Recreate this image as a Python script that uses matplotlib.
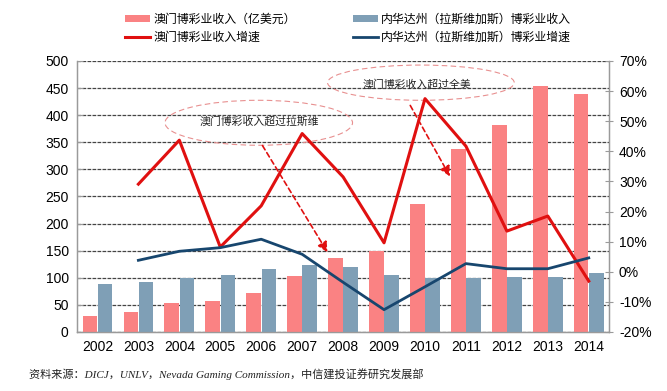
import numpy as np
import matplotlib
matplotlib.use("Agg")
import matplotlib.pyplot as plt
from matplotlib.patches import Ellipse

plt.rcParams['font.family'] = ['Liberation Sans', 'Noto Sans CJK SC', 'DejaVu Sans']
plt.rcParams['axes.unicode_minus'] = False

years = ['2002', '2003', '2004', '2005', '2006', '2007', '2008',
         '2009', '2010', '2011', '2012', '2013', '2014']
# 收入（亿美元）
macau_rev = [29, 37, 54, 58, 71, 104, 137, 150, 237, 337, 382, 453, 440]
nevada_rev = [88, 92, 99, 106, 117, 124, 119, 105, 100, 100, 101, 102, 108]
# 增速（%），2002 年无数据
macau_growth = [np.nan, 29.1, 43.7, 8.2, 21.9, 45.9, 31.5, 9.6, 57.5, 41.7, 13.5, 18.5, -3.1]
nevada_growth = [np.nan, 3.8, 6.8, 8.0, 10.8, 5.8, -3.5, -12.6, -5.0, 2.7, 1.0, 1.0, 4.6]

c_pink = '#FA8283'
c_steel = '#7F9FB6'
c_red = '#E01010'
c_navy = '#17466E'

fig = plt.figure(figsize=(6.67, 3.91), dpi=100)
ax = fig.add_axes([0.1154, 0.151, 0.798, 0.693])
ax2 = ax.twinx()

x = np.arange(len(years))
w = 0.355
b1 = ax.bar(x - 0.185, macau_rev, w, color=c_pink, zorder=3, label='澳门博彩业收入（亿美元）')
b2 = ax.bar(x + 0.185, nevada_rev, w, color=c_steel, zorder=3, label='内华达州（拉斯维加斯）博彩业收入')

l1, = ax2.plot(x, macau_growth, color=c_red, lw=2.2, label='澳门博彩业收入增速')
l2, = ax2.plot(x, nevada_growth, color=c_navy, lw=2.0, label='内华达州（拉斯维加斯）博彩业增速')

ax.set_xlim(-0.5, len(years) - 0.5)
ax.set_ylim(0, 500)
ax.set_yticks(np.arange(0, 501, 50))
ax2.set_ylim(-20, 70)
ax2.set_yticks(np.arange(-20, 71, 10))
ax2.set_yticklabels([f'{v}%' for v in range(-20, 71, 10)])
ax.set_xticks(x)
ax.set_xticklabels(years)

ax.yaxis.grid(True, linestyle=(0, (3, 1)), color='#444444', lw=0.9, zorder=0)
ax.set_axisbelow(True)

for a in (ax, ax2):
    a.spines['top'].set_visible(False)
    for s in ('left', 'right', 'bottom'):
        a.spines[s].set_color('#9a9a9a')
        a.spines[s].set_linewidth(0.9)
ax.tick_params(axis='x', length=0, labelsize=10, pad=6)
ax.tick_params(axis='y', direction='in', length=4, color='#9a9a9a', labelsize=10, pad=6)
ax2.tick_params(axis='y', direction='inout', length=6, color='#9a9a9a', labelsize=10, pad=4)

# 注释
ann_font = dict(family=['Noto Sans CJK SC'], fontsize=7.8, color='#222222')
ax.add_patch(Ellipse((3.94, 386), 4.58, 83, fill=False, ec='#E89090', ls=(0, (5, 3)), lw=0.8, zorder=5))
ax.text(3.96, 389, '澳门博彩收入超过拉斯维', ha='center', va='center', zorder=6, **ann_font)
ax.add_patch(Ellipse((7.9, 460), 4.56, 65, fill=False, ec='#E89090', ls=(0, (5, 3)), lw=0.8, zorder=5))
ax.text(7.8, 457, '澳门博彩收入超过全美', ha='center', va='center', zorder=6, **ann_font)

arrow = dict(arrowstyle='-|>,head_length=0.6,head_width=0.3', color=c_red, lw=1.2,
             ls=(0, (3, 2)), shrinkA=0, shrinkB=0)
ax.annotate('', xy=(5.62, 147), xytext=(4.03, 344), arrowprops=arrow, zorder=6)
ax.annotate('', xy=(8.61, 287), xytext=(7.64, 418), arrowprops=arrow, zorder=6)

ax2.set_zorder(ax.get_zorder() + 1)
ax2.patch.set_visible(False)

fig.legend([b1, l1, b2, l2],
           [b1.get_label(), l1.get_label(), b2.get_label(), l2.get_label()],
           ncol=2, loc='center', bbox_to_anchor=(0.522, 0.927), frameon=False,
           prop=dict(family=['Noto Sans CJK SC'], size=8.6), handlelength=2.1,
           handleheight=0.55, columnspacing=4.8, handletextpad=0.25, labelspacing=0.45)

fig.text(0.044, 0.033, '资料来源：DICJ，UNLV，Nevada Gaming Commission，中信建投证券研究发展部',
         family=['Liberation Serif', 'Noto Sans CJK SC'], style='italic', fontsize=8,
         color='#222222')

fig.savefig('out.png', dpi=100)
